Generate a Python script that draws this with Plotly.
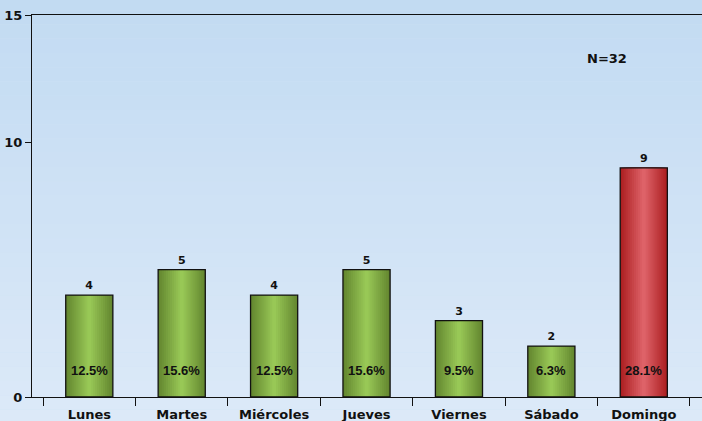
import plotly.graph_objects as go

categories = ["Lunes", "Martes", "Miércoles", "Jueves", "Viernes", "Sábado", "Domingo"]
counts = [4, 5, 4, 5, 3, 2, 9]
percents = ["12.5%", "15.6%", "12.5%", "15.6%", "9.5%", "6.3%", "28.1%"]
y_ticks = [0, 10, 15]
n_label = "N=32"

def lerp(c1, c2, t):
    return "rgb(%d,%d,%d)" % tuple(round(a + (b - a) * t) for a, b in zip(c1, c2))

green_dark, green_light = (100, 135, 48), (152, 200, 86)
red_dark, red_light = (172, 32, 34), (222, 98, 104)
is_red = [c == max(counts) for c in counts]

W = 0.51
n = 12
fig = go.Figure()
for k in range(n):
    t = k / (n - 1)
    cols = [lerp(red_dark, red_light, t) if r else lerp(green_dark, green_light, t) for r in is_red]
    fig.add_trace(go.Bar(x=categories, y=counts, width=W * (1 - k / n),
                         marker=dict(color=cols, line=dict(width=0)),
                         hoverinfo="skip", showlegend=False))
# outline + count labels
fig.add_trace(go.Bar(x=categories, y=counts, width=W,
                     marker=dict(color="rgba(0,0,0,0)", line=dict(color="#111", width=1.3)),
                     text=[str(c) for c in counts], textposition="outside",
                     textfont=dict(family="DejaVu Sans", size=11, color="#111", weight="bold"),
                     cliponaxis=False, showlegend=False))

annotations = []
for c, p in zip(categories, percents):
    annotations.append(dict(x=c, y=0, yref="y", xref="x", text=p, showarrow=False,
                            yshift=27, font=dict(family="Liberation Sans", size=13, color="#111", weight="bold")))
annotations.append(dict(x=5.6, y=13.3, xref="x", yref="y", text=n_label, showarrow=False,
                        font=dict(family="DejaVu Sans", size=13, color="#111", weight="bold")))

# background gradient bands
shapes = []
top, bot = (194, 219, 242), (220, 233, 248)
nb = 30
for i in range(nb):
    t = i / (nb - 1)
    shapes.append(dict(type="rect", xref="paper", yref="paper", layer="below",
                       x0=-0.1, x1=1.1, y0=1.05 - (i + 1) * 1.12 / nb, y1=1.05 - i * 1.12 / nb,
                       fillcolor=lerp(top, bot, t), line=dict(width=0)))

fig.update_layout(
    width=702, height=421,
    margin=dict(l=32, r=0, t=15, b=24, autoexpand=False),
    barmode="overlay",
    paper_bgcolor=lerp(top, bot, 0.5),
    plot_bgcolor="rgba(0,0,0,0)",
    annotations=annotations,
    shapes=shapes,
    xaxis=dict(type="category", range=[-0.62, 6.63], tickson="boundaries", automargin=False,
               ticks="outside", ticklen=8, tickcolor="#111", tickwidth=1, ticklabelstandoff=5,
               showline=True, linecolor="#111", linewidth=1.3, mirror=True,
               showgrid=False,
               tickfont=dict(family="DejaVu Sans", size=13, color="#111", weight="bold")),
    yaxis=dict(range=[0, 15], tickvals=y_ticks, ticks="outside", ticklen=6, automargin=False,
               tickcolor="#111", showline=True, linecolor="#111", linewidth=1.3,
               showgrid=False, zeroline=False,
               tickfont=dict(family="DejaVu Sans", size=13, color="#111", weight="bold")),
)

fig.write_html("out.html", config={"displayModeBar": False},
               post_script="document.body.style.margin='0';document.body.style.overflow='hidden';")
